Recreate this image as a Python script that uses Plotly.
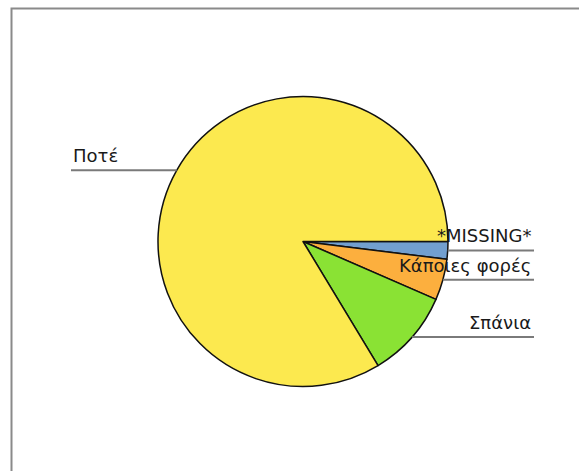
import math
import plotly.graph_objects as go

# ---- data ----
categories = ["*MISSING*", "Κάποιες φορές", "Σπάνια", "Ποτέ"]
counts = [3, 7, 15, 128]
colors = ["#729fcf", "#fcaf3e", "#8ae234", "#fce94f"]

W, H = 579, 471
CX, CY, R = 303, 241.5, 145          # pie centre / radius in pixels
LINE_RIGHT = 534                      # right end of leader lines
LINE_LEFT = 71                        # left end of leader lines

def px_x(x):
    return x / W

def px_y(y):
    return 1 - y / H

fig = go.Figure(go.Pie(
    labels=categories,
    values=counts,
    sort=False,
    direction="clockwise",
    rotation=90,
    marker=dict(colors=colors, line=dict(color="#111111", width=1.5)),
    textinfo="none",
    hoverinfo="label+value+percent",
    showlegend=False,
    domain=dict(x=[px_x(CX - R), px_x(CX + R)], y=[px_y(CY + R), px_y(CY - R)]),
))

shapes = [
    # frame
    dict(type="rect", xref="paper", yref="paper",
         x0=px_x(11.5), x1=px_x(W + 20), y0=px_y(H + 20), y1=px_y(8.5),
         line=dict(color="#8a8a8a", width=2), fillcolor="rgba(0,0,0,0)", layer="below"),
]
annotations = []

total = sum(counts)
cum = 0.0
for lab, v in zip(categories, counts):
    mid = (cum + v / 2) / total * 2 * math.pi   # clockwise from 3 o'clock
    cum += v
    px = CX + R * math.cos(mid)
    py = CY + R * math.sin(mid)
    if math.cos(mid) >= 0:
        x0, x1 = px, LINE_RIGHT
        tx, anchor = LINE_RIGHT - 1, "right"
    else:
        x0, x1 = LINE_LEFT, px
        tx, anchor = LINE_LEFT, "left"
    shapes.append(dict(type="line", xref="paper", yref="paper",
                       x0=px_x(x0), x1=px_x(x1), y0=px_y(py), y1=px_y(py),
                       line=dict(color="#7a7a7a", width=2)))
    annotations.append(dict(text=lab, xref="paper", yref="paper",
                            x=px_x(tx), y=px_y(py - 2), xanchor=anchor, yanchor="bottom",
                            showarrow=False,
                            font=dict(family="DejaVu Sans", size=18, color="#1a1a1a")))

fig.update_layout(
    width=W, height=H,
    margin=dict(l=0, r=0, t=0, b=0),
    paper_bgcolor="white", plot_bgcolor="white",
    shapes=shapes, annotations=annotations,
)

fig.write_html("out.html",
               config={"displayModeBar": False},
               post_script="document.body.style.margin='0';document.body.style.overflow='hidden';")
